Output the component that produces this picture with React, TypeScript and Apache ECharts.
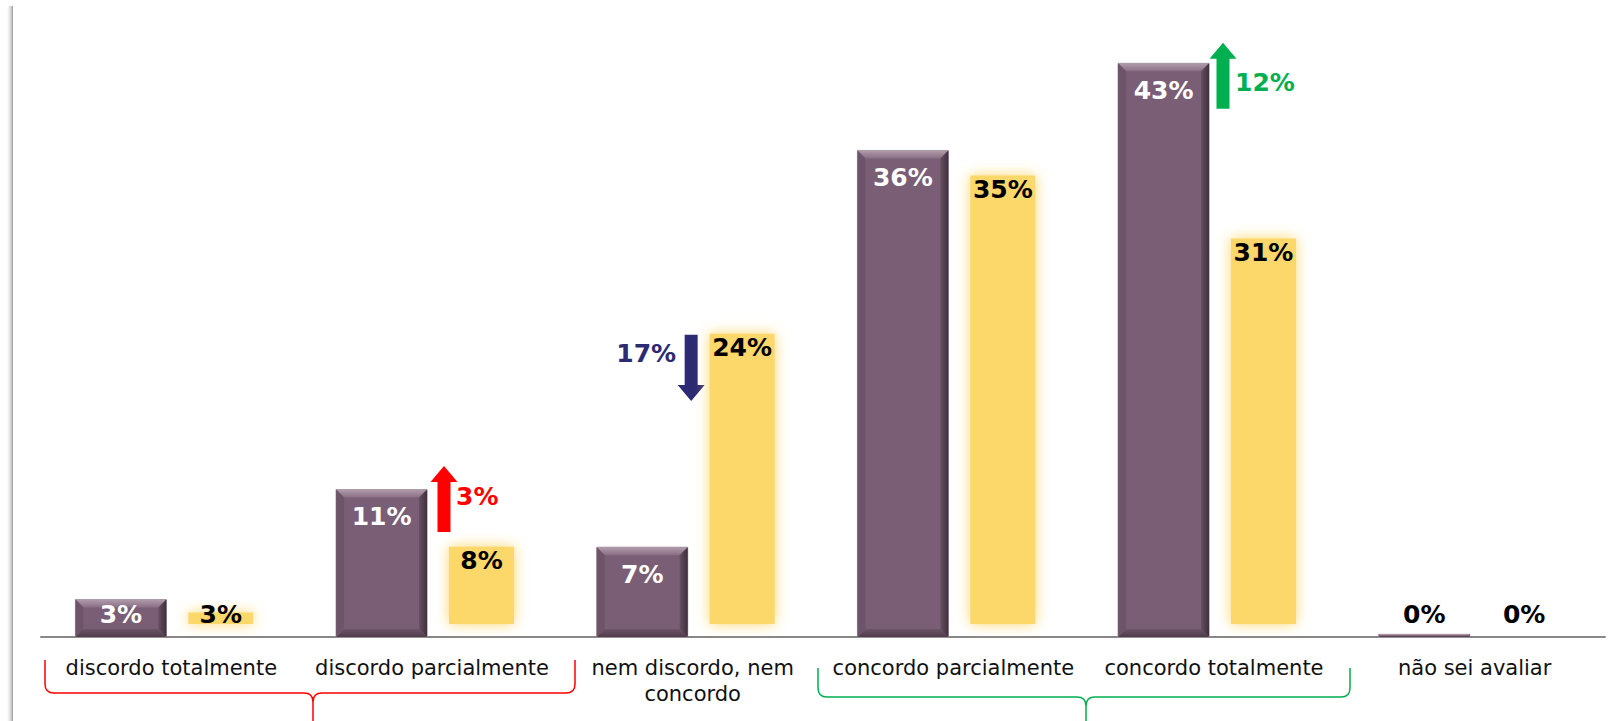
import React, { useEffect, useRef } from "react";
import * as echarts from "echarts";

// ---- data ----
const categories = [
  "discordo totalmente",
  "discordo parcialmente",
  "nem discordo, nem\nconcordo",
  "concordo parcialmente",
  "concordo totalmente",
  "não sei avaliar",
];
const purpleValues = [2.8, 11.0, 6.7, 36.3, 42.8, 0.2];
const yellowValues = [2.8, 7.7, 23.6, 35.4, 30.7, 0];
const changeCategory = [1, 2, 4];
const changeLabels = ["3%", "17%", "12%"];
const changeDirection = ["up", "down", "up"];
const changeColors = ["#FF0000", "#2B2A72", "#00B050"];

const PURPLE = "#7A5E75";
const YELLOW = "#FCD76A";
const FONT = '"DejaVu Sans", Verdana, sans-serif';

const redBracket =
  "M45 660 L45 684 Q45 693 54 693 L304 693 Q313 693 313 702 L313 722 M575 660 L575 684 Q575 693 566 693 L322 693 Q313 693 313 702";
const greenBracket =
  "M818 668 L818 688 Q818 697 827 697 L1077 697 Q1086 697 1086 706 L1086 722 M1350 668 L1350 688 Q1350 697 1341 697 L1095 697 Q1086 697 1086 706";
echarts.graphic.registerShape("bracketRed", echarts.graphic.extendPath(redBracket, {}));
echarts.graphic.registerShape("bracketGreen", echarts.graphic.extendPath(greenBracket, {}));

const fmt = (v: number) => Math.round(v) + "%";

function purpleItem(params: any, api: any) {
  const idx = api.value(0);
  const v = api.value(1);
  const base = api.coord([idx, 0]);
  const top = api.coord([idx, v]);
  const bw = api.size([1, 0])[0];
  const cx = base[0];
  const x0 = cx - bw * 0.368;
  const w = bw * 0.349;
  const x1 = x0 + w;
  const yb = base[1];
  const yt = top[1];
  const h = yb - yt;
  const b = Math.min(8, h / 2, w / 2);
  const labelY = Math.min(yt + 27, yb - 23);
  const inside = h > 30;
  return {
    type: "group",
    children: [
      { type: "rect", shape: { x: x0, y: yt, width: w, height: h }, style: { fill: PURPLE, stroke: "#A89AA5", lineWidth: 1 } },
      {
        type: "polygon",
        shape: { points: [[x0, yt], [x1, yt], [x1 - b, yt + b], [x0 + b, yt + b]] },
        style: {
          fill: new echarts.graphic.LinearGradient(0, 0, 0, 1, [
            { offset: 0, color: "#B09CAB" },
            { offset: 1, color: "#8A6E84" },
          ]),
        },
      },
      {
        type: "polygon",
        shape: { points: [[x1, yt], [x1, yb], [x1 - b, yb - b], [x1 - b, yt + b]] },
        style: {
          fill: new echarts.graphic.LinearGradient(1, 0, 0, 0, [
            { offset: 0, color: "#3F2F3C" },
            { offset: 1, color: "#65505F" },
          ]),
        },
      },
      {
        type: "polygon",
        shape: { points: [[x0, yb], [x1, yb], [x1 - b, yb - b], [x0 + b, yb - b]] },
        style: {
          fill: new echarts.graphic.LinearGradient(0, 1, 0, 0, [
            { offset: 0, color: "#4F3C4B" },
            { offset: 1, color: "#6C5467" },
          ]),
        },
      },
      {
        type: "polygon",
        shape: { points: [[x0, yt], [x0 + b, yt + b], [x0 + b, yb - b], [x0, yb]] },
        style: { fill: "#6E5469" },
      },
      {
        type: "text",
        x: x0 + w / 2,
        y: labelY,
        style: {
          text: fmt(v),
          fill: inside ? "#FFFFFF" : "#000000",
          font: "bold 25px " + FONT,
          align: "center",
          verticalAlign: "middle",
        },
      },
    ],
  };
}

function yellowItem(params: any, api: any) {
  const idx = api.value(0);
  const v = api.value(1);
  const base = api.coord([idx, 0]);
  const top = api.coord([idx, v]);
  const bw = api.size([1, 0])[0];
  const cx = base[0];
  const x0 = cx + bw * 0.0153;
  const w = bw * 0.349;
  const yb = base[1];
  const yt = top[1];
  const h = yb - yt;
  const inset = 13;
  const labelY = Math.min(yt + 27, yb - 23);
  const children: any[] = [];
  if (h > 1) {
    const rh = Math.max(h - 2 * inset, 4);
    const ry = Math.min(yt + inset, yb - inset - 4);
    children.push({
      type: "rect",
      shape: { x: x0 + inset, y: ry, width: w - 2 * inset, height: rh },
      style: { fill: YELLOW, shadowBlur: 14, shadowColor: YELLOW },
    });
  }
  children.push({
    type: "text",
    x: x0 + w / 2,
    y: labelY,
    style: {
      text: fmt(v),
      fill: "#000000",
      font: "bold 25px " + FONT,
      align: "center",
      verticalAlign: "middle",
    },
  });
  return { type: "group", children };
}

export default function App() {
  const ref = useRef<HTMLDivElement>(null);
  useEffect(() => {
    if (!ref.current) return;
    const chart = echarts.init(ref.current, undefined, { renderer: "svg" });
    chart.setOption({
      animation: false,
      backgroundColor: "#FFFFFF",
      grid: { left: 41, right: 13, top: 7, bottom: 84 },
      xAxis: {
        type: "category",
        data: categories,
        axisLine: { lineStyle: { color: "#878787", width: 2 } },
        axisTick: { show: false },
        axisLabel: {
          interval: 0,
          color: "#111111",
          fontSize: 21,
          fontFamily: FONT,
          margin: 18,
          lineHeight: 26,
        },
      },
      yAxis: { type: "value", min: 0, max: 47, show: false, splitLine: { show: false } },
      series: [
        {
          type: "custom",
          renderItem: purpleItem,
          encode: { x: 0, y: 1 },
          data: purpleValues.map((v, i) => [i, v]),
          z: 2,
        },
        {
          type: "custom",
          renderItem: yellowItem,
          encode: { x: 0, y: 1 },
          data: yellowValues.map((v, i) => [i, v]),
          z: 3,
        },
      ],
    });

    const px = (i: number) => chart.convertToPixel({ xAxisIndex: 0 }, i) as number;
    const py = (v: number) => chart.convertToPixel({ yAxisIndex: 0 }, v) as number;
    const xOffsets = [12, -1.5, 9];
    const startVals = [7.84, 22.54, 39.4];
    const endVals = [12.76, 17.61, 44.33];
    const graphics: any[] = [
      {
        type: "rect",
        shape: { x: 7, y: 6, width: 6, height: 716 },
        style: {
          fill: new echarts.graphic.LinearGradient(0, 0, 1, 0, [
            { offset: 0, color: "rgba(200,200,200,0)" },
            { offset: 0.6, color: "rgba(190,190,190,0.6)" },
            { offset: 1, color: "#9A9A9A" },
          ]),
        },
        silent: true,
      },
      { type: "bracketRed", x: 0, y: 0, style: { fill: "none", stroke: "#FF0000", lineWidth: 1.5 }, silent: true },
      { type: "bracketGreen", x: 0, y: 0, style: { fill: "none", stroke: "#00B050", lineWidth: 1.5 }, silent: true },
    ];
    changeCategory.forEach((c, k) => {
      const x = px(c) + xOffsets[k];
      const ys = py(startVals[k]);
      const ye = py(endVals[k]);
      const sw = 6.5;
      const hw = 13.5;
      const hh = 16;
      let points: number[][];
      if (changeDirection[k] === "up") {
        points = [[x - sw, ys], [x - sw, ye + hh], [x - hw, ye + hh], [x, ye], [x + hw, ye + hh], [x + sw, ye + hh], [x + sw, ys]];
      } else {
        points = [[x - sw, ys], [x - sw, ye - hh], [x - hw, ye - hh], [x, ye], [x + hw, ye - hh], [x + sw, ye - hh], [x + sw, ys]];
      }
      graphics.push({ type: "polygon", shape: { points }, style: { fill: changeColors[k] }, silent: true });
      let tx: number, ty: number, align: string;
      if (changeDirection[k] === "up") {
        tx = x + 12;
        align = "left";
        ty = (ys + ye) / 2 + (k === 0 ? -2 : 7);
      } else {
        tx = x - 15;
        align = "right";
        ty = ys + 19;
      }
      graphics.push({
        type: "text",
        x: tx,
        y: ty,
        style: {
          text: changeLabels[k],
          fill: changeColors[k],
          font: "bold 25px " + FONT,
          align,
          verticalAlign: "middle",
        },
        silent: true,
      });
    });
    chart.setOption({ graphic: graphics });

    return () => chart.dispose();
  }, []);
  return (
    <div
      ref={ref}
      style={{ position: "fixed", left: 0, top: 0, width: 1618, height: 721, background: "#fff" }}
    />
  );
}
